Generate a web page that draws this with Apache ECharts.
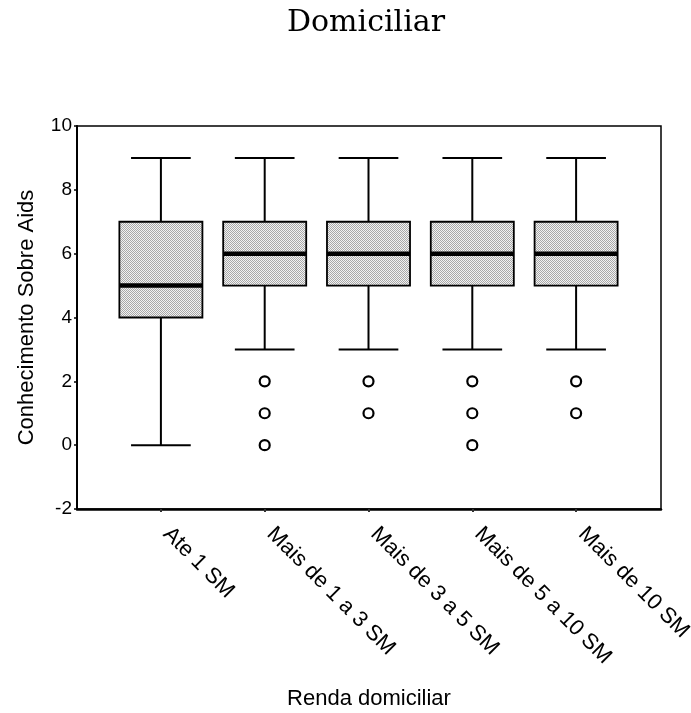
<!DOCTYPE html>
<html>
<head>
<meta charset="utf-8">
<script src="https://cdn.jsdelivr.net/npm/echarts@6/dist/echarts.min.js"></script>
<style>
html,body{margin:0;padding:0;background:#fff;}
#chart{width:691px;height:713px;}
</style>
</head>
<body>
<div id="chart"></div>
<script>
const categories = ['Ate 1 SM', 'Mais de 1 a 3 SM', 'Mais de 3 a 5 SM', 'Mais de 5 a 10 SM', 'Mais de 10 SM'];
const whiskerLow = [0, 3, 3, 3, 3];
const quartile1 = [4, 5, 5, 5, 5];
const medians = [5, 6, 6, 6, 6];
const quartile3 = [7, 7, 7, 7, 7];
const whiskerHigh = [9, 9, 9, 9, 9];
const outliers = [[], [2, 1, 0], [2, 1], [2, 1, 0], [2, 1]];
const yMin = -2, yMax = 10, yStep = 2;

// fine hatch pattern
const pat = document.createElement('canvas');
pat.width = 4; pat.height = 4;
const pctx = pat.getContext('2d');
pctx.fillStyle = '#f2f2f2';
pctx.fillRect(0, 0, 4, 4);
pctx.fillStyle = '#a8a8a8';
for (let i = 0; i < 4; i++) { pctx.fillRect(i, i, 1, 1); pctx.fillRect(i, (i + 2) % 4, 1, 1); }

const boxData = categories.map((c, i) => [i, whiskerLow[i], quartile1[i], medians[i], quartile3[i], whiskerHigh[i]]);
const outlierData = [];
outliers.forEach((arr, i) => arr.forEach(v => outlierData.push([i, v])));

const font = "'Liberation Sans', Arial, sans-serif";

const chart = echarts.init(document.getElementById('chart'), null, {renderer: 'canvas'});
chart.setOption({
  animation: false,
  backgroundColor: '#fff',
  title: {
    text: 'Domiciliar',
    left: 282, top: 3,
    textStyle: {fontFamily: "'DejaVu Serif', serif", fontSize: 30, fontWeight: 'normal', color: '#000'}
  },
  grid: [
    {left: 77, right: 30, top: 126, bottom: 204, show: true, borderColor: '#000', borderWidth: 1.5, backgroundColor: 'transparent', outerBoundsMode: 'none'},
    {left: 109, right: 63, top: 126, bottom: 204, outerBoundsMode: 'none'}
  ],
  xAxis: [
    {
      gridIndex: 0, type: 'value', min: 0, max: 1,
      axisLine: {show: true, onZero: false, lineStyle: {color: '#000', width: 2.5}},
      axisTick: {show: false}, axisLabel: {show: false}, splitLine: {show: false},
      name: 'Renda domiciliar', nameLocation: 'middle', nameGap: 179,
      nameTextStyle: {fontFamily: font, fontSize: 22, color: '#000'}
    },
    {
      gridIndex: 1, type: 'category', data: categories, boundaryGap: true, position: 'bottom',
      axisLine: {show: false, onZero: false},
      axisTick: {show: true, alignWithLabel: true, length: 3, lineStyle: {color: '#333', width: 2}},
      axisLabel: {rotate: -45, interval: 0, margin: 16, padding: [0, 0, 0, 8], fontFamily: font, fontSize: 22, color: '#000'},
      splitLine: {show: false}
    }
  ],
  yAxis: [
    {
      gridIndex: 0, type: 'value', min: yMin, max: yMax, interval: yStep,
      axisLine: {show: true, onZero: false, lineStyle: {color: '#000', width: 2}},
      axisTick: {show: true, length: 3, lineStyle: {color: '#000', width: 1.5}},
      axisLabel: {margin: 5, fontFamily: font, fontSize: 19, color: '#000'},
      splitLine: {show: false},
      name: 'Conhecimento Sobre Aids', nameLocation: 'middle', nameGap: 39,
      nameTextStyle: {fontFamily: font, fontSize: 22, color: '#000'}
    },
    {
      gridIndex: 1, type: 'value', min: yMin, max: yMax, interval: yStep, show: false
    }
  ],
  series: [
    {
      type: 'custom',
      xAxisIndex: 1, yAxisIndex: 1,
      data: boxData,
      renderItem: function (params, api) {
        const x = api.value(0);
        const band = api.size([1, 0])[0];
        const boxW = band * 0.8, capW = band * 0.575;
        const pLow = api.coord([x, api.value(1)]);
        const pQ1 = api.coord([x, api.value(2)]);
        const pMed = api.coord([x, api.value(3)]);
        const pQ3 = api.coord([x, api.value(4)]);
        const pHigh = api.coord([x, api.value(5)]);
        const cx = pMed[0];
        const ls = {stroke: '#000', lineWidth: 2};
        return {
          type: 'group',
          children: [
            {type: 'line', shape: {x1: cx, y1: pHigh[1], x2: cx, y2: pQ3[1]}, style: ls},
            {type: 'line', shape: {x1: cx, y1: pQ1[1], x2: cx, y2: pLow[1]}, style: ls},
            {type: 'line', shape: {x1: cx - capW / 2, y1: pHigh[1], x2: cx + capW / 2, y2: pHigh[1]}, style: ls},
            {type: 'line', shape: {x1: cx - capW / 2, y1: pLow[1], x2: cx + capW / 2, y2: pLow[1]}, style: ls},
            {type: 'rect', shape: {x: cx - boxW / 2, y: pQ3[1], width: boxW, height: pQ1[1] - pQ3[1]},
              style: {fill: {image: pat, repeat: 'repeat'}, stroke: '#000', lineWidth: 1.8}},
            {type: 'line', shape: {x1: cx - boxW / 2, y1: pMed[1], x2: cx + boxW / 2, y2: pMed[1]}, style: {stroke: '#000', lineWidth: 4.5}}
          ]
        };
      }
    },
    {
      type: 'scatter',
      xAxisIndex: 1, yAxisIndex: 1,
      data: outlierData,
      symbol: 'circle', symbolSize: 10,
      itemStyle: {color: '#fff', borderColor: '#000', borderWidth: 2.2, opacity: 1}
    }
  ]
});
</script>
</body>
</html>
